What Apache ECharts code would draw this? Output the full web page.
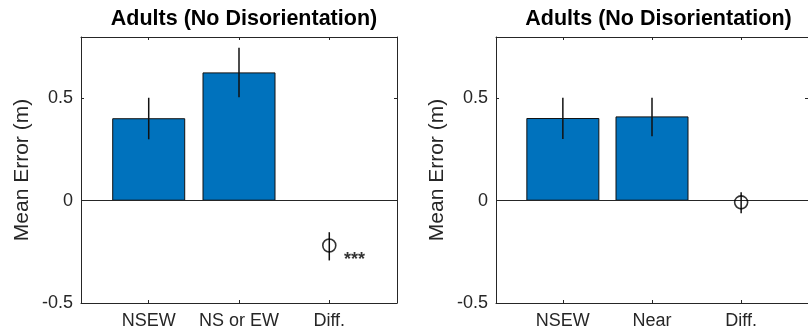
<!DOCTYPE html>
<html>
<head>
<meta charset="utf-8">
<script src="https://cdn.jsdelivr.net/npm/echarts@6/dist/echarts.min.js"></script>
<style>
  html, body { margin: 0; padding: 0; background: #fff; }
  #chart { width: 808px; height: 332px; }
</style>
</head>
<body>
<div id="chart"></div>
<script>
// ---- data ----
const titleText = 'Adults (No Disorientation)';
const yAxisName = 'Mean Error (m)';
const yTicks = [-0.5, 0, 0.5];
const xTicks = [1, 2, 3];

const catsA = ['NSEW', 'NS or EW', 'Diff.'];
const barsA = [0.403, 0.627];
const errLowA = [0.300, 0.506];
const errHighA = [0.503, 0.747];
const diffA = [-0.219];
const diffLowA = [-0.292];
const diffHighA = [-0.154];
const sigA = '***';
const sigPosA = [3.28, -0.29];

const catsB = ['NSEW', 'Near', 'Diff.'];
const barsB = [0.404, 0.412];
const errLowB = [0.302, 0.315];
const errHighB = [0.503, 0.503];
const diffB = [-0.008];
const diffLowB = [-0.061];
const diffHighB = [0.041];

// ---- style ----
const FONT = "'Liberation Sans', Arial, Helvetica, sans-serif";
const AX = '#262626';
const BAR = '#0072BD';

const chart = echarts.init(document.getElementById('chart'), null, { renderer: 'canvas' });

function xAxes(gi, cats) {
  const base = {
    gridIndex: gi, type: 'value', min: 0.25, max: 3.75,
    axisLine: { show: true, onZero: false, lineStyle: { color: AX, width: 1 } },
    axisTick: { show: true, inside: true, length: 3, customValues: xTicks, lineStyle: { color: AX } },
    splitLine: { show: false }
  };
  return [
    Object.assign({}, base, {
      position: 'bottom',
      axisLabel: { show: true, customValues: xTicks, margin: 9, fontSize: 18, color: AX, fontFamily: FONT,
        formatter: v => cats[Math.round(v) - 1] }
    }),
    Object.assign({}, base, { position: 'top', axisLabel: { show: false } })
  ];
}
function yAxes(gi) {
  const base = {
    gridIndex: gi, type: 'value', min: -0.5, max: 0.8,
    axisLine: { show: true, onZero: false, lineStyle: { color: AX, width: 1 } },
    axisTick: { show: true, inside: true, length: 3, customValues: yTicks, lineStyle: { color: AX } },
    splitLine: { show: false }
  };
  return [
    Object.assign({}, base, {
      position: 'left',
      axisLabel: { show: true, customValues: yTicks, margin: 8, fontSize: 18, color: AX, fontFamily: FONT },
      name: yAxisName, nameLocation: 'middle', nameGap: 48,
      nameTextStyle: { fontSize: 21, color: AX, fontFamily: FONT }
    }),
    Object.assign({}, base, { position: 'right', axisLabel: { show: false } })
  ];
}

function panelSeries(axisIdx, bars, lo, hi, dVal, dLo, dHi) {
  const barData = bars.map((v, i) => [i + 1, v]);
  const errData = bars.map((v, i) => [i + 1, lo[i], hi[i]]);
  errData.push([3, dLo[0], dHi[0]]);
  return [
    {
      type: 'bar', xAxisIndex: axisIdx, yAxisIndex: axisIdx,
      data: barData, barWidth: 73,
      itemStyle: { color: BAR, borderColor: '#111', borderWidth: 1 },
      silent: true, animation: false,
      markLine: {
        silent: true, symbol: ['none', 'none'], animation: false,
        label: { show: false },
        lineStyle: { color: AX, width: 1, type: 'solid' },
        data: [{ yAxis: 0 }]
      }
    },
    {
      type: 'custom', xAxisIndex: axisIdx, yAxisIndex: axisIdx,
      data: errData, animation: false, silent: true, z: 5,
      renderItem: (params, api) => {
        const p1 = api.coord([api.value(0), api.value(1)]);
        const p2 = api.coord([api.value(0), api.value(2)]);
        return { type: 'line', shape: { x1: p1[0], y1: p1[1], x2: p2[0], y2: p2[1] },
          style: { stroke: '#111', lineWidth: 1.5 } };
      }
    },
    {
      type: 'scatter', xAxisIndex: axisIdx, yAxisIndex: axisIdx,
      data: [[3, dVal[0]]], symbol: 'circle', symbolSize: 13, z: 6,
      itemStyle: { color: 'rgba(0,0,0,0)', borderColor: '#000', borderWidth: 1.6 },
      animation: false, silent: true
    }
  ];
}

const series = []
  .concat(panelSeries(0, barsA, errLowA, errHighA, diffA, diffLowA, diffHighA))
  .concat(panelSeries(2, barsB, errLowB, errHighB, diffB, diffLowB, diffHighB));

series.push({
  type: 'scatter', xAxisIndex: 0, yAxisIndex: 0,
  data: [sigPosA], symbolSize: 0, z: 7, animation: false, silent: true,
  label: { show: true, position: 'inside', formatter: sigA, fontSize: 18, fontWeight: 'bold', color: '#000', fontFamily: FONT }
});

chart.setOption({
  backgroundColor: '#fff',
  animation: false,
  title: [
    { text: titleText, left: 239, top: 3, textAlign: 'center',
      textStyle: { fontSize: 21.5, fontWeight: 'bold', color: '#000', fontFamily: FONT } },
    { text: titleText, left: 653.5, top: 3, textAlign: 'center',
      textStyle: { fontSize: 21.5, fontWeight: 'bold', color: '#000', fontFamily: FONT } }
  ],
  grid: [
    { left: 81, right: 411, top: 37, bottom: 29 },
    { left: 496, right: -3, top: 37, bottom: 29 }
  ],
  xAxis: xAxes(0, catsA).concat(xAxes(1, catsB)),
  yAxis: yAxes(0).concat(yAxes(1)),
  series: series
});
</script>
</body>
</html>
